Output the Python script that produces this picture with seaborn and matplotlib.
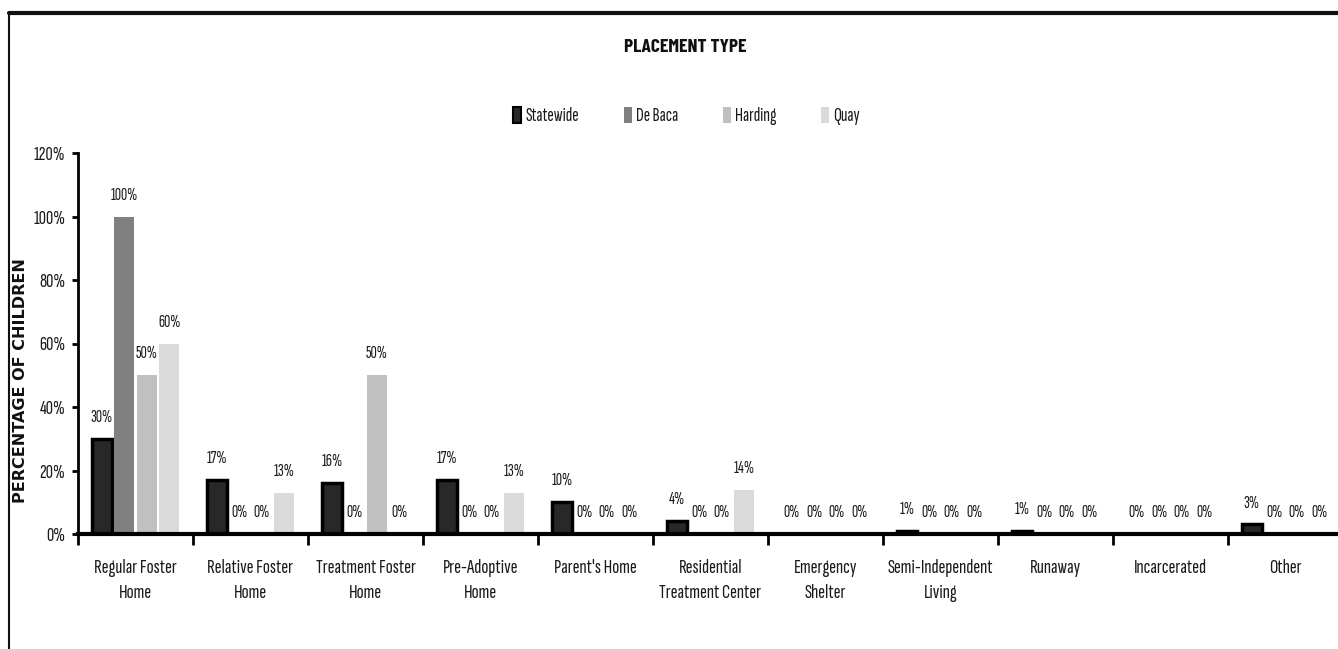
import numpy as np
import pandas as pd
import matplotlib
matplotlib.use("Agg")
import matplotlib.pyplot as plt
import seaborn as sns
from matplotlib.lines import Line2D
from matplotlib.patches import Patch

# ---- data -----------------------------------------------------------------
categories = [
    "Regular Foster\nHome", "Relative Foster\nHome", "Treatment Foster\nHome",
    "Pre-Adoptive\nHome", "Parent's Home", "Residential\nTreatment Center",
    "Emergency\nShelter", "Semi-Independent\nLiving", "Runaway",
    "Incarcerated", "Other",
]
series = ["Statewide", "De Baca", "Harding", "Quay"]
statewide = [30, 17, 16, 17, 10, 4, 0, 1, 1, 0, 3]
de_baca = [100, 0, 0, 0, 0, 0, 0, 0, 0, 0, 0]
harding = [50, 0, 50, 0, 0, 0, 0, 0, 0, 0, 0]
quay = [60, 13, 0, 13, 0, 14, 0, 0, 0, 0, 0]
y_ticks = [0, 20, 40, 60, 80, 100, 120]

values = {"Statewide": statewide, "De Baca": de_baca, "Harding": harding, "Quay": quay}
colors = ["#282828", "#808080", "#c0c0c0", "#dadada"]

df = pd.DataFrame(
    [(c, s, v) for s in series for c, v in zip(categories, values[s])],
    columns=["category", "series", "value"],
)

# ---- fonts ----------------------------------------------------------------
sns.set_theme(style="white")
NARROW = ["Sofia Sans Extra Condensed", "Liberation Sans", "DejaVu Sans"]
HEADING = ["Barlow Condensed", "Liberation Sans", "DejaVu Sans"]
WIDE_BOLD = ["DejaVu Sans"]
plt.rcParams["font.family"] = NARROW
TEXT = "#1a1a1a"

# ---- figure ---------------------------------------------------------------
fig = plt.figure(figsize=(13.38, 6.49), dpi=100)
fig.patch.set_facecolor("white")
ax = fig.add_axes([78 / 1338, 115 / 649, 1265 / 1338, 381 / 649])

sns.barplot(
    data=df, x="category", y="value", hue="series",
    order=categories, hue_order=series, palette=colors,
    width=0.78, gap=0.12, saturation=1, legend=False, ax=ax,
)

for i, cont in enumerate(ax.containers):
    for bar in cont:
        if i == 0:
            bar.set_edgecolor("black")
            bar.set_linewidth(2.5)
        else:
            bar.set_linewidth(0)
    ax.bar_label(cont, labels=[f"{v}%" for v in values[series[i]]],
                 padding=10, fontsize=12.5, color=TEXT)

ax.set_xlim(-0.5, len(categories) - 0.5)
ax.set_ylim(0, 120)
ax.set_xlabel("")
ax.set_ylabel("")

# boundary ticks between groups, labels centred under each group
ax.set_xticks(np.arange(-0.5, len(categories), 1.0), labels=[""] * (len(categories) + 1))
ax.set_xticks(np.arange(len(categories)), labels=categories, minor=True)
ax.tick_params(axis="x", which="major", direction="out", length=8, width=2, color="black", bottom=True)
ax.tick_params(axis="x", which="minor", length=0, pad=18, labelsize=15, labelcolor=TEXT, bottom=True)
for lab in ax.get_xticklabels(minor=True):
    lab.set_linespacing(1.5)

ax.set_yticks(y_ticks, labels=[f"{t}%" for t in y_ticks])
ax.tick_params(axis="y", direction="out", length=4, width=2, color="black", left=True,
               labelsize=14.5, labelcolor=TEXT, pad=5)

for side in ("top", "right"):
    ax.spines[side].set_visible(False)
ax.spines["left"].set_linewidth(2)
ax.spines["left"].set_color("black")
ax.spines["bottom"].set_linewidth(3)
ax.spines["bottom"].set_color("black")

# ---- titles and legend ----------------------------------------------------
fig.text(0.512, 1 - 47 / 649, "PLACEMENT TYPE", ha="center", va="center",
         fontsize=14, fontweight="bold", family=HEADING, color="#111111")
fig.text(21 / 1338, 1 - 381 / 649, "PERCENTAGE OF CHILDREN", rotation=90,
         ha="center", va="center", fontsize=11.5, fontweight="bold",
         family=WIDE_BOLD, color="#111111")

handles = [
    Patch(facecolor=colors[0], edgecolor="black", linewidth=1.5),
    Patch(facecolor=colors[1], edgecolor="none"),
    Patch(facecolor=colors[2], edgecolor="none"),
    Patch(facecolor=colors[3], edgecolor="none"),
]
fig.legend(handles, series, loc="center", bbox_to_anchor=(0.513, 1 - 116 / 649),
           ncol=4, frameon=False, prop={"family": NARROW, "size": 14},
           handlelength=0.42, handleheight=0.9, handletextpad=0.2, columnspacing=2.3,
           labelcolor=TEXT)

# ---- outer frame ----------------------------------------------------------
fig.add_artist(Line2D([9 / 1338, 1.0], [1 - 13 / 649] * 2, transform=fig.transFigure,
                      color="#111111", linewidth=3))
fig.add_artist(Line2D([9 / 1338] * 2, [0, 1 - 13 / 649], transform=fig.transFigure,
                      color="#111111", linewidth=1.5))

fig.savefig("out.png", dpi=100, facecolor="white")
